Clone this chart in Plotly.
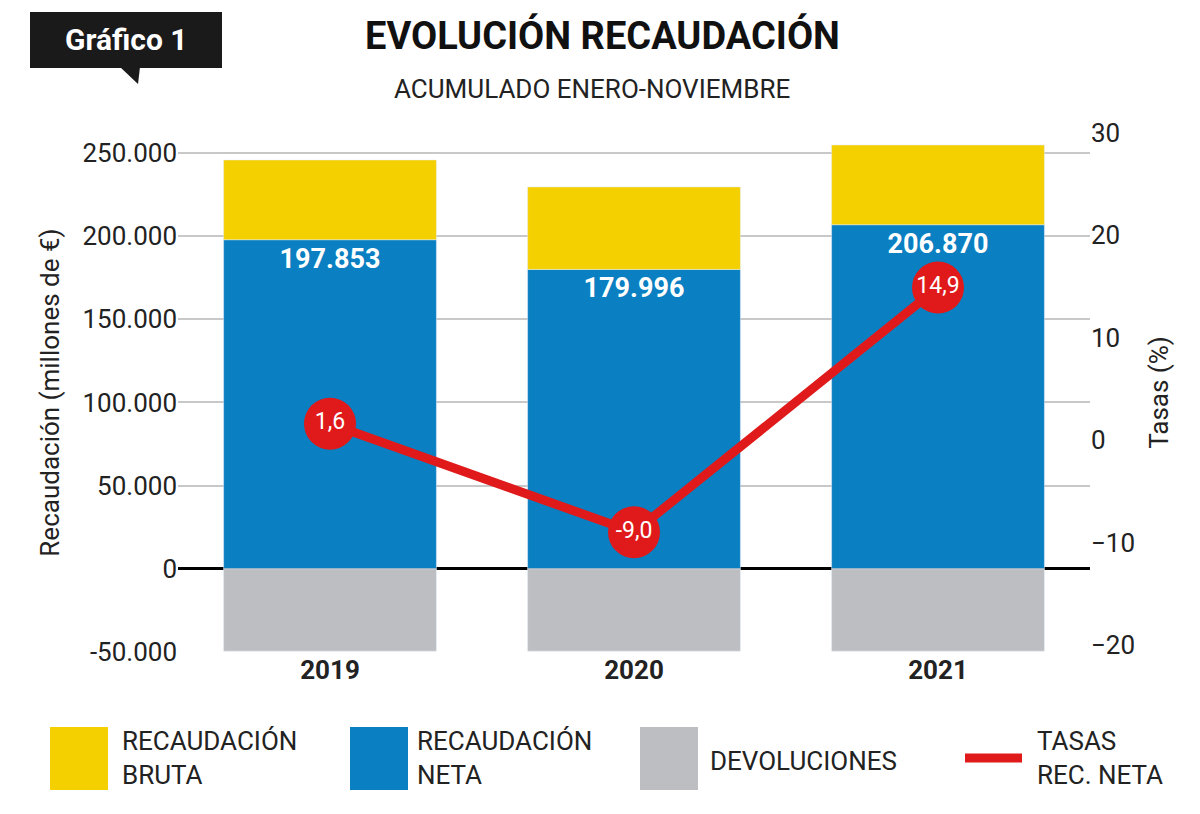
import plotly.graph_objects as go

years = ["2019", "2020", "2021"]
neta = [197853, 179996, 206870]
bruta = [245800, 229600, 254800]
devoluciones = [-49500, -49500, -49500]
tasas = [1.6, -9.0, 14.9]
neta_labels = ["197.853", "179.996", "206.870"]
tasa_labels = ["1,6", "-9,0", "14,9"]
left_ticks = [-50000, 0, 50000, 100000, 150000, 200000, 250000]
left_ticktext = ["-50.000", "0", "50.000", "100.000", "150.000", "200.000", "250.000"]
right_ticks = [-20, -10, 0, 10, 20, 30]

YELLOW = "#f5d000"; BLUE = "#0a7fc2"; GRAY = "#bdbec2"; RED = "#e01a1a"
FONT = "Roboto"

OFF = 8
W, H = 1200, 814
L, R, T, B = 178 - OFF, W - 1090 + OFF, 133 - OFF, H - 652 + OFF
PW, PH = W - L - R, H - T - B
def px(x): return (x - OFF - L) / PW
def py(y): return (H - B - (y - OFF)) / PH

fig = go.Figure()
fig.add_bar(x=years, y=neta, marker_color=BLUE, text=neta_labels, textposition="inside",
            insidetextanchor="end", textfont=dict(color="white", size=27, family=FONT, weight="bold"),
            name="neta", showlegend=False)
fig.add_bar(x=years, y=[b - n for b, n in zip(bruta, neta)], marker_color=YELLOW, showlegend=False)
fig.add_bar(x=years, y=devoluciones, marker_color=GRAY, showlegend=False)
fig.add_scatter(x=years, y=tasas, yaxis="y2", mode="lines+markers+text", text=tasa_labels,
                textposition="middle center", textfont=dict(color="white", size=23, family=FONT),
                line=dict(color=RED, width=9), marker=dict(color=RED, size=52), showlegend=False)

fig.update_layout(
    width=W, height=H, margin=dict(l=L, r=R, t=T, b=B), plot_bgcolor="white", paper_bgcolor="white",
    barmode="relative", bargap=0.3, font=dict(family=FONT, size=24, color="#222"),
    xaxis=dict(tickfont=dict(size=26, family=FONT, weight="bold", color="#222"), showgrid=False, ticks=""),
    yaxis=dict(range=[-50000, 262000], tickvals=left_ticks, ticktext=left_ticktext,
               gridcolor="#c8c8c8", gridwidth=1.5, zeroline=True, zerolinecolor="black", zerolinewidth=3,
               title=dict(text="Recaudación (millones de €)", font=dict(size=26)), tickfont=dict(size=26)),
    yaxis2=dict(range=[-20.7, 30], overlaying="y", side="right", tickvals=right_ticks, showgrid=False,
                zeroline=False, title=dict(text="Tasas (%)", font=dict(size=26)), tickfont=dict(size=26)),
)

shapes = [
    dict(type="rect", xref="paper", yref="paper", x0=px(30), x1=px(222), y0=py(68), y1=py(12), fillcolor="#1a1a1a", line_width=0),
    dict(type="path", xref="paper", yref="paper",
         path=f"M {px(120)},{py(67)} L {px(140)},{py(67)} L {px(138)},{py(84)} Z", fillcolor="#1a1a1a", line_width=0),
    dict(type="rect", xref="paper", yref="paper", x0=px(50), x1=px(108), y0=py(790), y1=py(727), fillcolor=YELLOW, line_width=0),
    dict(type="rect", xref="paper", yref="paper", x0=px(350), x1=px(408), y0=py(790), y1=py(727), fillcolor=BLUE, line_width=0),
    dict(type="rect", xref="paper", yref="paper", x0=px(640), x1=px(698), y0=py(790), y1=py(727), fillcolor=GRAY, line_width=0),
    dict(type="line", xref="paper", yref="paper", x0=px(965), x1=px(1022), y0=py(758), y1=py(758), line=dict(color=RED, width=9)),
]
fig.update_layout(shapes=shapes)

def ann(x, y, text, size, color="#222", xanchor="left", bold=False):
    fig.add_annotation(xref="paper", yref="paper", x=px(x), y=py(y), text=text, showarrow=False,
                       xanchor=xanchor, yanchor="middle", align="left",
                       font=dict(size=size, color=color, family=FONT, weight="bold" if bold else "normal"))

ann(126, 40, "Gráfico 1", 30, "white", "center", True)
ann(602, 35, "EVOLUCIÓN RECAUDACIÓN", 38, "#111", "center", True)
ann(592, 89, "ACUMULADO ENERO-NOVIEMBRE", 26, "#222", "center")
ann(120, 758, "RECAUDACIÓN<br>BRUTA", 26)
ann(415, 758, "RECAUDACIÓN<br>NETA", 26)
ann(708, 761, "DEVOLUCIONES", 26)
ann(1035, 758, "TASAS<br>REC. NETA", 26)

fig.write_html("out.html")
